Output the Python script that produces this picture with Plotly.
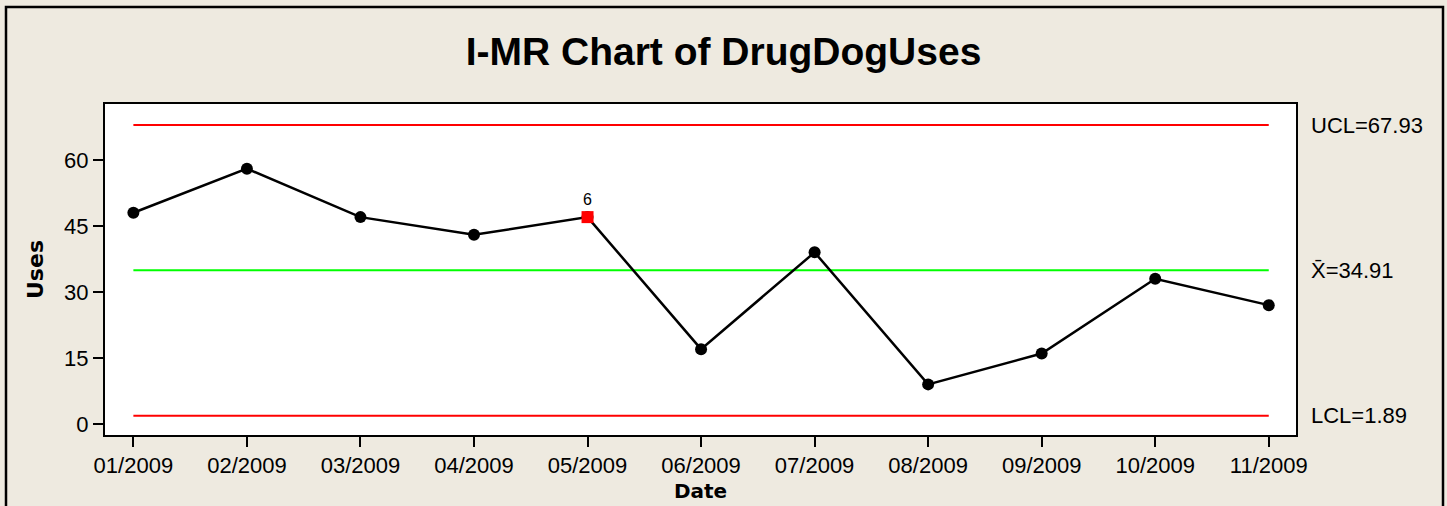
import plotly.graph_objects as go

# ---- data ----
dates = ["01/2009", "02/2009", "03/2009", "04/2009", "05/2009", "06/2009",
         "07/2009", "08/2009", "09/2009", "10/2009", "11/2009"]
uses = [48, 58, 47, 43, 47, 17, 39, 9, 16, 33, 27]
center_line = 34.91
ucl = 67.93
lcl = 1.89
flag_index = [4]
flag_label = ["6"]
y_ticks = [0, 15, 30, 45, 60]

BG = "#EEEAE0"
TICK_FONT = dict(family="Liberation Sans, Arial, sans-serif", size=22, color="black")

fig = go.Figure()

# control limits and centre line
for val, col in [(ucl, "#FF0000"), (center_line, "#00FF00"), (lcl, "#FF0000")]:
    fig.add_trace(go.Scatter(x=[dates[0], dates[-1]], y=[val, val], mode="lines",
                             line=dict(color=col, width=2), hoverinfo="skip",
                             showlegend=False))

# individual values
fig.add_trace(go.Scatter(x=dates, y=uses, mode="lines+markers",
                         line=dict(color="black", width=2.5),
                         marker=dict(symbol="circle", size=12, color="black"),
                         showlegend=False))

# flagged points (test 6 failure)
fig.add_trace(go.Scatter(x=[dates[i] for i in flag_index], y=[uses[i] for i in flag_index],
                         mode="markers+text", text=flag_label, textposition="top center",
                         textfont=dict(family="Liberation Sans, Arial, sans-serif", size=16, color="black"),
                         marker=dict(symbol="square", size=12, color="#FF0000"),
                         showlegend=False))

# right-hand labels
for txt, val in [(f"UCL={ucl:.2f}", ucl), (f"X\u0304={center_line:.2f}", center_line),
                 (f"LCL={lcl:.2f}", lcl)]:
    fig.add_annotation(x=1.011, xref="paper", y=val, yref="y", text=txt, showarrow=False,
                       xanchor="left", yanchor="middle", font=TICK_FONT)

# outer frame
L, R, T, B = 105, 151, 104, 71
W, H = 1447, 506
pw, ph = W - L - R, H - T - B
fig.add_shape(type="rect", xref="paper", yref="paper",
              x0=(6 - L) / pw, x1=(1443 - L) / pw,
              y0=(H - B - 560) / ph, y1=(H - B - 7) / ph,
              line=dict(color="black", width=2.5), fillcolor="rgba(0,0,0,0)", layer="below")

fig.update_layout(
    width=W, height=H,
    margin=dict(l=L, r=R, t=T, b=B),
    paper_bgcolor=BG, plot_bgcolor="white",
    title=dict(text="<b>I-MR Chart of DrugDogUses</b>", x=0.5, xref="container",
               y=1 - 51 / H, yref="container", xanchor="center", yanchor="middle",
               font=dict(family="Liberation Sans, Arial, sans-serif", size=39, color="black")),
    xaxis=dict(type="category", categoryorder="array", categoryarray=dates,
               range=[-0.25, 10.24], showgrid=False, zeroline=False,
               showline=True, linecolor="black", linewidth=2, mirror=True,
               ticks="outside", ticklen=10, tickwidth=2, tickcolor="black",
               tickfont=TICK_FONT, automargin=False,
               title=dict(text="<b>Date</b>",
                          font=dict(family="DejaVu Sans, sans-serif", size=20, color="black"),
                          standoff=7)),
    yaxis=dict(range=[-2.5, 72.7], tickvals=y_ticks, showgrid=False, zeroline=False,
               showline=True, linecolor="black", linewidth=2, mirror=True,
               ticks="outside", ticklen=10, tickwidth=2, tickcolor="black",
               tickfont=TICK_FONT, automargin=False,
               title=dict(text="<b>Uses</b>",
                          font=dict(family="DejaVu Sans, sans-serif", size=22, color="black"),
                          standoff=14)),
)

fig.write_html("out.html", config={"displayModeBar": False},
               post_script="document.body.style.margin='0';document.body.style.overflow='hidden';")
